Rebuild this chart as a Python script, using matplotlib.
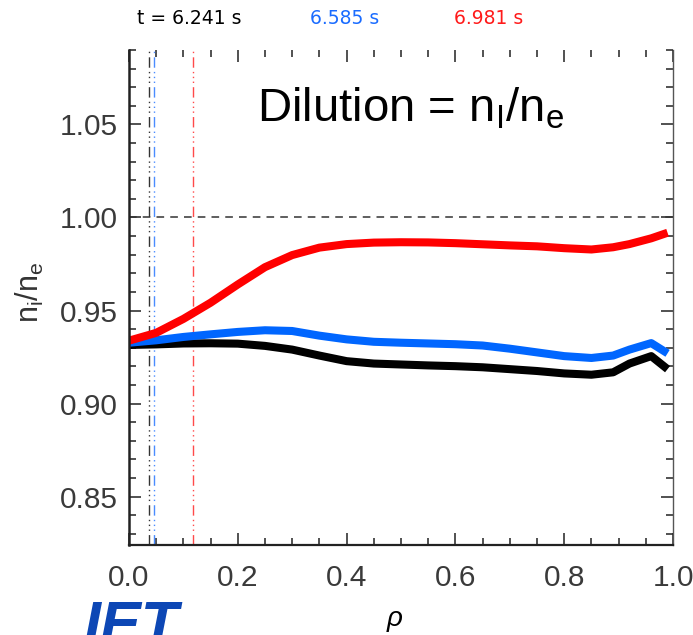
import matplotlib
matplotlib.use("Agg")
import matplotlib.pyplot as plt
from matplotlib.ticker import MultipleLocator

plt.rcParams['mathtext.fontset'] = 'custom'
plt.rcParams['mathtext.rm'] = 'Liberation Sans'
plt.rcParams['mathtext.it'] = 'Liberation Sans:italic'

# normalised radius and dilution profiles n_i/n_e at three times
rho = [0.0, 0.05, 0.1, 0.15, 0.2, 0.25, 0.3, 0.35, 0.4, 0.45, 0.5, 0.55,
       0.6, 0.65, 0.7, 0.75, 0.8, 0.85, 0.89, 0.92, 0.96, 0.99]
dil_t1 = [0.9315, 0.9318, 0.9323, 0.9324, 0.9322, 0.9310, 0.9290, 0.9258,
          0.9228, 0.9215, 0.9210, 0.9205, 0.9201, 0.9195, 0.9185, 0.9175,
          0.9162, 0.9155, 0.9168, 0.9215, 0.9255, 0.9185]
dil_t2 = [0.9327, 0.9340, 0.9358, 0.9372, 0.9385, 0.9394, 0.9390, 0.9365,
          0.9345, 0.9332, 0.9327, 0.9323, 0.9319, 0.9312, 0.9295, 0.9275,
          0.9255, 0.9245, 0.9258, 0.9290, 0.9325, 0.9270]
dil_t3 = [0.9338, 0.9380, 0.9455, 0.9542, 0.9640, 0.9733, 0.9798, 0.9838,
          0.9857, 0.9865, 0.9867, 0.9866, 0.9862, 0.9856, 0.9850, 0.9845,
          0.9835, 0.9828, 0.9840, 0.9857, 0.9888, 0.9918]

times = ['t = 6.241 s', '6.585 s', '6.981 s']
# rho position marked for each time (vertical lines)
rho_mark = [0.036, 0.046, 0.118]

curve_colors = ['black', '#0066ff', '#ff0000']
mark_colors = ['#333333', '#4a8cff', '#ff4a4a']
time_colors = ['black', '#1a6cff', '#ff1a1a']
time_x = [137, 310, 454]

fig = plt.figure(figsize=(6.93, 6.35), dpi=100)
ax = fig.add_axes([129 / 693, 1 - 545 / 635, 544 / 693, 495 / 635])

for r, c in zip(rho_mark, mark_colors):
    ax.axvline(r, color=c, lw=1.0, dashes=(7.5, 3, 1, 2.5, 1, 2.5, 1, 3))

ax.axhline(1.0, color='#333333', lw=1.1, dashes=(5, 4))

for prof, c in zip([dil_t1, dil_t2, dil_t3], curve_colors):
    ax.plot(rho, prof, color=c, lw=5.8, solid_capstyle='butt',
            solid_joinstyle='round')

ax.set_xlim(0, 1)
ax.set_ylim(0.824, 1.090)

ax.xaxis.set_major_locator(MultipleLocator(0.2))
ax.xaxis.set_minor_locator(MultipleLocator(0.05))
ax.yaxis.set_major_locator(MultipleLocator(0.05))
ax.yaxis.set_minor_locator(MultipleLocator(0.01))
ax.xaxis.set_major_formatter(plt.FormatStrFormatter('%.1f'))
ax.yaxis.set_major_formatter(plt.FormatStrFormatter('%.2f'))

ax.tick_params(which='both', direction='in', top=True, right=True,
               color='#222222', width=1.1)
ax.tick_params(which='major', length=8.5, labelsize=21.5,
               labelcolor='#3a3a3a')
ax.tick_params(which='minor', length=5)
ax.tick_params(axis='y', which='major', pad=8)
ax.tick_params(axis='x', which='major', pad=14)
for lab in ax.get_xticklabels() + ax.get_yticklabels():
    lab.set_family('Liberation Sans')

ax.spines['top'].set_visible(False)
ax.spines['left'].set_linewidth(1.8)
ax.spines['bottom'].set_linewidth(1.6)
ax.spines['right'].set_linewidth(1.0)
ax.spines['left'].set_color('#222222')
ax.spines['bottom'].set_color('#222222')
ax.spines['right'].set_color('#555555')

ax.set_ylabel(r'n$_\mathrm{i}$/n$_\mathrm{e}$', fontsize=22,
              family='Liberation Sans', color='#333333')
ax.yaxis.set_label_coords(-0.182, 0.511)
ax.yaxis.label.set_va('center')
ax.set_xlabel(r'$\rho$', fontsize=20, color='black')
ax.xaxis.set_label_coords(0.489, -0.152)
ax.xaxis.label.set_va('center')

ax.text(0.235, 0.855, r'Dilution = n$_\mathrm{I}$/n$_\mathrm{e}$',
        transform=ax.transAxes, fontsize=34, family='Liberation Sans',
        ha='left', va='baseline', color='black')

for txt, c, x in zip(times, time_colors, time_x):
    fig.text(x / 693, 1 - 18 / 635, txt, color=c,
             fontsize=13.5, ha='left', va='center')

# logo at the lower left, partly below the page edge
fig.text(84 / 693, 1 - 600 / 635, 'IET', color='#0d47b5', fontsize=44,
         fontweight='heavy', style='italic', family='Liberation Sans',
         ha='left', va='top')

fig.savefig('out.png', dpi=100)
